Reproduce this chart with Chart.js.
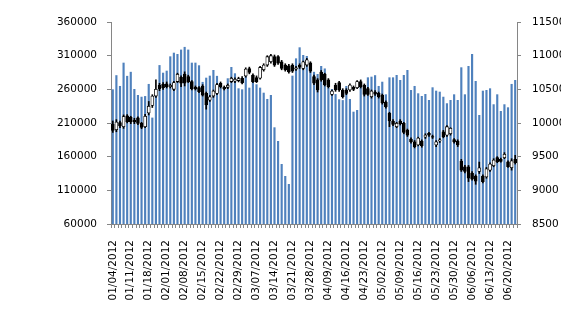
<!DOCTYPE html>
<html>
<head>
<meta charset="utf-8">
<script src="https://cdn.jsdelivr.net/npm/chart.js@4/dist/chart.umd.min.js"></script>
<style>
    html, body { margin: 0; padding: 0; background: #fff; }
    #wrap { width: 561px; height: 328px; }
</style>
</head>
<body>
<div id="wrap"><canvas id="stockChart" width="561" height="328"></canvas></div>
<script>
const year = '2012';
const days = [
    '01/04','01/05','01/06','01/09','01/10','01/11','01/12','01/13','01/16','01/17',
    '01/18','01/19','01/20','01/30','01/31','02/01','02/02','02/03','02/06','02/07',
    '02/08','02/09','02/10','02/13','02/14','02/15','02/16','02/17','02/20','02/21',
    '02/22','02/23','02/24','02/27','02/28','02/29','03/01','03/02','03/05','03/06',
    '03/07','03/08','03/09','03/12','03/13','03/14','03/15','03/16','03/19','03/20',
    '03/21','03/22','03/23','03/26','03/27','03/28','03/29','03/30','04/05','04/06',
    '04/09','04/10','04/11','04/12','04/13','04/16','04/17','04/18','04/19','04/20',
    '04/23','04/24','04/25','04/26','04/27','05/02','05/03','05/04','05/07','05/08',
    '05/09','05/10','05/11','05/14','05/15','05/16','05/17','05/18','05/21','05/22',
    '05/23','05/24','05/25','05/28','05/29','05/30','05/31','06/01','06/04','06/05',
    '06/06','06/07','06/08','06/11','06/12','06/13','06/14','06/15','06/18','06/19',
    '06/20','06/21','06/25'
];

// volume (left axis)
const volume = [
    260000,281000,265000,299600,280000,286000,260500,251600,249000,250000,
    268000,218000,253000,296000,284700,287700,309000,314400,312500,319000,
    323000,319000,299600,299600,295700,271000,277300,280300,288700,280000,
    267500,260500,276400,293200,283800,261500,260000,281000,262500,275400,
    267500,262500,255000,245700,251600,203600,183300,149100,131300,119400,
    280300,306000,322400,311000,309500,291000,286000,282800,294700,291000,
    263000,260500,253000,245200,244000,265000,245600,226800,229300,270400,
    253000,277800,278800,281000,265000,271300,252600,277800,277800,281300,
    273900,281300,288700,259000,265000,254100,250100,253100,244200,263000,
    258000,256500,249000,239300,244200,252600,244200,292700,252600,294700,
    312500,272400,221900,258000,259000,261500,237800,252600,227800,237800,
    233300,268000,273900
];

// price (right axis)
const opens = [
    9985,9900,10005,9945,10105,10085,10040,10075,9995,9945,
    10150,10260,10400,10560,10575,10580,10540,10500,10615,10680,
    10725,10690,10615,10530,10525,10550,10440,10340,10400,10440,
    10590,10530,10530,10615,10620,10630,10665,10700,10810,10710,
    10675,10665,10790,10860,10910,10985,10985,10910,10860,10850,
    10860,10800,10860,10810,10860,10895,10690,10640,10755,10725,
    10640,10425,10565,10600,10490,10490,10490,10530,10525,10615,
    10560,10510,10390,10460,10440,10415,10310,10145,10030,9945,
    10030,9995,9895,9760,9720,9675,9730,9790,9845,9800,
    9675,9735,9870,9820,9840,9755,9730,9435,9350,9350,
    9255,9210,9280,9210,9200,9300,9365,9485,9460,9485,
    9425,9335,9460
];
const highs = [
    10030,10050,10030,10120,10125,10100,10070,10090,10010,10130,
    10320,10420,10640,10590,10600,10610,10580,10620,10740,10700,
    10760,10710,10630,10550,10540,10570,10460,10410,10490,10590,
    10610,10550,10580,10680,10670,10680,10690,10820,10830,10730,
    10700,10840,10880,11000,11020,11010,11000,10930,10880,10870,
    10880,10840,10880,10920,10960,10910,10710,10660,10780,10740,
    10660,10490,10590,10620,10510,10510,10580,10550,10630,10640,
    10580,10530,10490,10480,10460,10430,10330,10160,10050,10010,
    10050,10010,9910,9780,9740,9790,9750,9840,9860,9820,
    9740,9770,9890,9960,9930,9770,9750,9460,9370,9370,
    9280,9230,9420,9230,9340,9410,9470,9500,9480,9560,
    9440,9470,9520
];
const lows = [
    9860,9870,9930,9920,10000,9990,9990,9975,9915,9930,
    10120,10230,10380,10480,10500,10520,10520,10480,10600,10540,
    10550,10600,10490,10490,10450,10400,10205,10320,10380,10420,
    10520,10490,10510,10600,10600,10610,10580,10680,10730,10600,
    10600,10650,10770,10840,10890,10840,10870,10790,10770,10740,
    10750,10780,10810,10790,10840,10750,10570,10460,10620,10550,
    10520,10410,10470,10470,10370,10420,10470,10480,10510,10520,
    10400,10410,10370,10410,10370,10280,10220,9945,9960,9930,
    9970,9840,9800,9700,9630,9660,9640,9770,9800,9770,
    9650,9710,9780,9800,9820,9700,9650,9280,9260,9130,
    9150,9090,9250,9110,9180,9280,9350,9410,9420,9470,
    9340,9300,9390
];
const closes = [
    9890,10015,9955,10095,10020,10015,10015,9995,9935,10100,
    10250,10400,10500,10510,10525,10540,10560,10600,10725,10590,
    10590,10615,10505,10505,10465,10415,10270,10390,10475,10570,
    10540,10505,10560,10665,10650,10660,10595,10800,10750,10615,
    10615,10825,10860,10985,11000,10860,10890,10810,10790,10760,
    10770,10820,10830,10910,10940,10770,10590,10490,10640,10565,
    10540,10475,10490,10490,10390,10440,10565,10500,10615,10540,
    10425,10425,10475,10430,10390,10300,10240,10030,9980,9995,
    9990,9860,9820,9720,9650,9775,9665,9820,9820,9790,
    9720,9750,9795,9945,9920,9720,9675,9300,9280,9180,
    9165,9135,9335,9130,9320,9390,9450,9425,9430,9535,
    9350,9440,9410
];

const volTicks = { min: 60000, max: 360000, step: 50000 };
const priceTicks = { min: 8500, max: 11500, step: 500 };

Chart.defaults.font.family = 'DejaVu Sans';
Chart.defaults.font.size = 10.5;
Chart.defaults.color = '#000';

const axisGray = '#868686';
const labels = days.map(d => d + '/' + year);
const bodyColors = opens.map((o, i) => closes[i] >= o ? '#ffffff' : '#000000');

const ctx = document.getElementById('stockChart').getContext('2d');
new Chart(ctx, {
    type: 'bar',
    data: {
        labels: labels,
        datasets: [
            {
                // candle bodies
                data: opens.map((o, i) => [o, closes[i]]),
                yAxisID: 'y1',
                grouped: false,
                order: 1,
                barThickness: 3,
                backgroundColor: bodyColors,
                borderColor: '#000',
                borderWidth: 0.8,
                borderSkipped: false
            },
            {
                // high-low wicks
                data: lows.map((l, i) => [l, highs[i]]),
                yAxisID: 'y1',
                grouped: false,
                order: 2,
                barThickness: 1,
                backgroundColor: '#000'
            },
            {
                data: volume,
                yAxisID: 'y',
                grouped: false,
                order: 3,
                categoryPercentage: 1,
                barPercentage: 0.6,
                backgroundColor: '#4F81BD'
            }
        ]
    },
    options: {
        responsive: false,
        animation: false,
        layout: { padding: { top: 22, left: 0, right: 0, bottom: 0 } },
        plugins: {
            legend: { display: false },
            tooltip: { enabled: false }
        },
        scales: {
            x: {
                offset: true,
                border: { color: axisGray },
                grid: { drawOnChartArea: false, drawTicks: true, tickLength: 4, color: axisGray, offset: true },
                ticks: {
                    autoSkip: false,
                    minRotation: 90,
                    maxRotation: 90,
                    padding: 12,
                    callback: function(value, index) {
                        return index % 5 === 0 ? labels[index] : '';
                    }
                },
                afterFit: function(scale) { scale.height = 104; }
            },
            y: {
                position: 'left',
                min: volTicks.min,
                max: volTicks.max,
                border: { color: axisGray },
                grid: { drawOnChartArea: false, drawTicks: true, tickLength: 4, color: axisGray },
                ticks: {
                    stepSize: volTicks.step,
                    padding: 10,
                    callback: v => String(v)
                },
                afterFit: function(scale) { scale.width = 111; }
            },
            y1: {
                position: 'right',
                min: priceTicks.min,
                max: priceTicks.max,
                border: { color: axisGray },
                grid: { drawOnChartArea: false, drawTicks: true, tickLength: 4, color: axisGray },
                ticks: {
                    stepSize: priceTicks.step,
                    padding: 11,
                    callback: v => String(v)
                },
                afterFit: function(scale) { scale.width = 44; }
            }
        }
    }
});
</script>
</body>
</html>
